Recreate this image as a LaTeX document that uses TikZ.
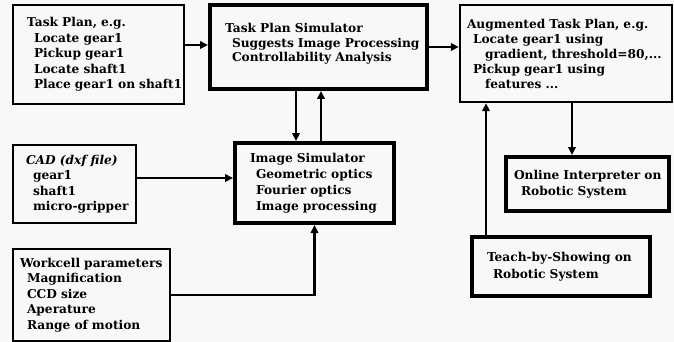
\documentclass[tikz,border=0pt]{standalone}
\usepackage{fontspec}
\setmainfont{DejaVu Serif}
\usetikzlibrary{arrows.meta}
\definecolor{bg}{RGB}{248,248,248}
\newcommand\Lx[2][0pt]{\mbox{\hspace*{#1}#2}}
\begin{document}
\begin{tikzpicture}[x=1pt,y=-1pt,
  box/.style={draw, line width=2pt, inner xsep=0pt, inner ysep=0pt, align=left,
    font=\fontsize{12.2}{15.5}\selectfont\bfseries},
  thickbox/.style={box, line width=4pt},
  arr/.style={line width=2.2pt, -{Triangle[length=8pt,width=7.5pt]}},
  ln/.style={line width=2.2pt}]
\fill[bg] (0,0) rectangle (674,342);
\useasboundingbox (0,0) rectangle (674,342);

\node[box, minimum width=171pt, minimum height=99pt, text width=143pt] (tp) at (98.5,54.5)
 {\Lx{Task Plan, e.g.}\\ \Lx[7pt]{Locate gear1}\\ \Lx[7pt]{Pickup gear1}\\ \Lx[7pt]{Locate shaft1}\\ \Lx[7pt]{Place gear1 on shaft1}};

\node[thickbox, minimum width=217pt, minimum height=84pt, text width=187pt, font=\fontsize{12.2}{14.5}\selectfont\bfseries] (sim) at (318.5,47)
 {\Lx{Task Plan Simulator}\\ \Lx[7pt]{Suggests Image Processing}\\ \Lx[7pt]{Controllability Analysis}\\[-6pt]\mbox{}};

\node[box, line width=2.4pt, minimum width=212pt, minimum height=97pt, text width=198pt, font=\fontsize{12.2}{15}\selectfont\bfseries] (aug) at (566,53.5)
 {\Lx{Augmented Task Plan, e.g.}\\ \Lx[6pt]{Locate gear1 using}\\ \Lx[18pt]{gradient, threshold=80,...}\\ \Lx[6pt]{Pickup gear1 using}\\ \Lx[18pt]{features ...}};

\node[box, minimum width=123pt, minimum height=78pt, text width=97pt] (cad) at (74.5,184)
 {\Lx{\itshape CAD (dxf file)}\\ \Lx[7pt]{gear1}\\ \Lx[7pt]{shaft1}\\ \Lx[7pt]{micro-gripper}};

\node[box, minimum width=157pt, minimum height=92pt, text width=143pt] (wc) at (91.5,295)
 {\Lx{Workcell parameters}\\ \Lx[7pt]{Magnification}\\ \Lx[7pt]{CCD size}\\ \Lx[7pt]{Aperature}\\ \Lx[7pt]{Range of motion}};

\node[thickbox, minimum width=159pt, minimum height=80pt, text width=129pt, font=\fontsize{12.2}{16}\selectfont\bfseries] (img) at (314.5,183)
 {\Lx{Image Simulator}\\ \Lx[6pt]{Geometric optics}\\ \Lx[6pt]{Fourier optics}\\ \Lx[6pt]{Image processing}};

\node[thickbox, minimum width=163pt, minimum height=54pt, text width=147pt] (onl) at (587.5,184)
 {\Lx{Online Interpreter on}\\ \Lx[7pt]{Robotic System}};

\node[thickbox, minimum width=178pt, minimum height=59pt, text width=148pt, font=\fontsize{12.2}{17}\selectfont\bfseries] (teach) at (561,266.5)
 {\Lx{Teach-by-Showing on}\\ \Lx[6pt]{Robotic System}};

\draw[arr] ([yshift=2pt]tp.east |- sim.west) -- ([yshift=2pt]sim.west);
\draw[arr] (sim.east) -- (sim.east -| aug.west);
\draw[arr] ([xshift=-18.5pt]img.north |- sim.south) -- ([xshift=-18.5pt]img.north);
\draw[arr] ([xshift=6.5pt]img.north) -- ([xshift=6.5pt]img.north |- sim.south);
\draw[arr] ([yshift=6pt]cad.east) -- ([yshift=6pt]cad.east -| img.west);
\draw[arr] (wc.east) -| (img.south);
\draw[arr] ([xshift=6pt]aug.south) -- ([xshift=6pt]aug.south |- onl.north);
\draw[arr] ([xshift=-80pt]aug.south |- teach.north) -- ([xshift=-80pt]aug.south);
\end{tikzpicture}
\end{document}
